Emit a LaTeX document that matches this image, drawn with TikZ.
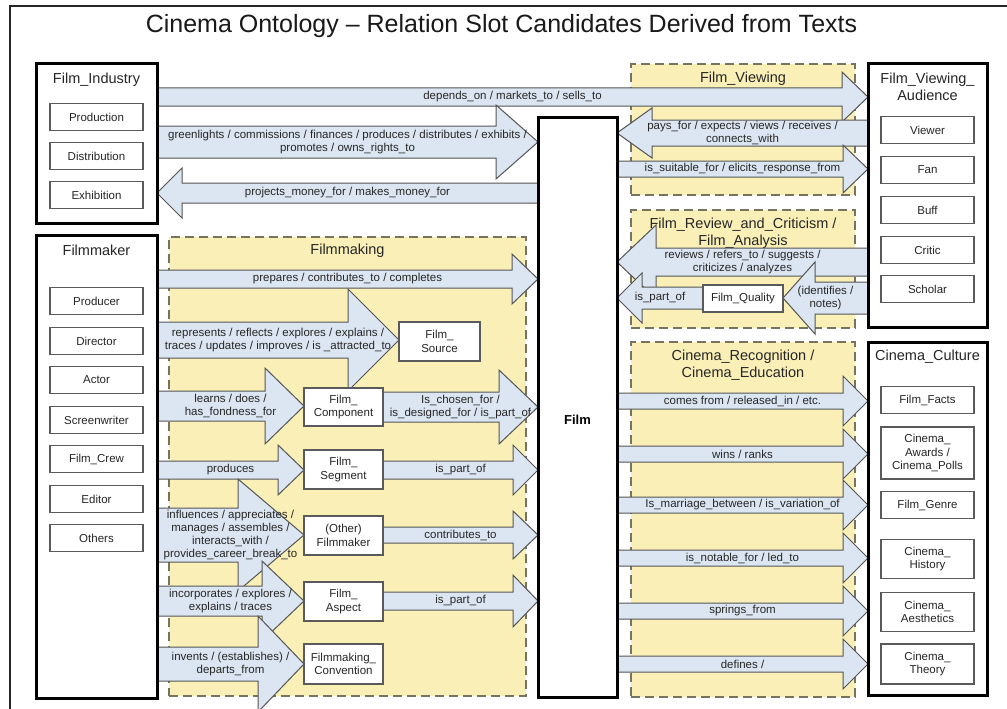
\documentclass[tikz,border=0pt]{standalone}
\usepackage{fontspec}
\setmainfont{Liberation Sans}
\usetikzlibrary{calc}

\definecolor{arrowfill}{RGB}{220,230,242}
\definecolor{arrowline}{RGB}{85,85,85}
\definecolor{zoneyellow}{RGB}{249,239,183}
\definecolor{dashgray}{RGB}{118,116,96}
\definecolor{boxgray}{RGB}{90,90,90}
\definecolor{textgray}{RGB}{38,38,38}

\pgfdeclarelayer{paper}
\pgfdeclarelayer{zones}
\pgfdeclarelayer{arrowlayer}
\pgfsetlayers{paper,zones,arrowlayer,main}

\tikzset{
  bigbox/.style={draw=black, line width=3pt, fill=white, outer sep=0pt},
  subbox/.style={draw=boxgray, line width=1.3pt, fill=white, minimum width=93pt,
    minimum height=27pt, font=\fontsize{11.5}{13.5}\selectfont, text=textgray,
    align=center, outer sep=0pt, inner sep=1pt},
  zone/.style={draw=dashgray, line width=1.8pt, dash pattern=on 9pt off 5pt,
    fill=zoneyellow, outer sep=0pt},
  hdr/.style={font=\fontsize{14.5}{17.5}\selectfont, text=textgray, align=center, inner sep=0pt},
  blockarrow/.style={draw=arrowline, line width=1pt, fill=arrowfill, line join=miter},
  arrlabel/.style={font=\fontsize{11.5}{13.2}\selectfont, text=textgray, align=center, inner sep=0pt},
}

% Block arrow between two node anchors:
% #1 source anchor, #2 target anchor (tip), #3 centre line y, #4 half shaft,
% #5 half head, #6 head length, #7 label, #8 label name
\newcommand\blockarrow[8]{%
  \path[blockarrow] let \p1=(#1), \p2=(#2), \n1={sign(\x2-\x1)} in
    (\x1,{-#3pt+#4pt}) -- ({\x2-(\n1)*#6pt},{-#3pt+#4pt})
    -- ({\x2-(\n1)*#6pt},{-#3pt+#5pt}) -- (\x2,{-#3pt})
    -- ({\x2-(\n1)*#6pt},{-#3pt-#5pt}) -- ({\x2-(\n1)*#6pt},{-#3pt-#4pt})
    -- (\x1,{-#3pt-#4pt}) -- cycle
    ({(\x1+\x2)/2},{-#3pt}) node[arrlabel] (#8) {#7};}

\begin{document}
\begin{tikzpicture}[x=1pt,y=-1pt]
\useasboundingbox (0,0) rectangle (1007,709);
\begin{pgfonlayer}{paper}
\fill[white] (0,0) rectangle (1007,709);
\end{pgfonlayer}

% page frame and title
\draw[black!85, line width=2pt] (10,720) -- (10,6) -- (1020,6);
\node[font=\fontsize{25}{28}\selectfont, text=black!90, anchor=base] (title) at (501.5,33)
  {Cinema Ontology – Relation Slot Candidates Derived from Texts};

% shaded zones
\begin{pgfonlayer}{zones}
\node[zone, minimum width=357pt, minimum height=459pt] (Filmmaking) at (347.5,466.5) {};
\node[zone, minimum width=224pt, minimum height=131pt] (Viewing) at (743,129.5) {};
\node[zone, minimum width=224pt, minimum height=118pt] (Review) at (743,269) {};
\node[zone, minimum width=224pt, minimum height=355pt] (Recognition) at (743,519.5) {};
\node[hdr] (FilmmakingT) at (347.5,251) {Filmmaking};
\node[hdr] (ViewingT) at (743,79) {Film\_Viewing};
\node[hdr] (ReviewT) at (743,233) {Film\_Review\_and\_Criticism /\\Film\_Analysis};
\node[hdr] (RecognitionT) at (743,365) {Cinema\_Recognition /\\Cinema\_Education};
\end{pgfonlayer}

% Film_Industry
\node[bigbox, minimum width=121pt, minimum height=159pt] (FI) at (96.5,143.5) {};
\node[hdr] (FIhead) at (96.5,80) {Film\_Industry};
\node[subbox] (Production) at (96.5,117) {Production};
\node[subbox] (Distribution) at (96.5,156) {Distribution};
\node[subbox] (Exhibition) at (96.5,195) {Exhibition};

% Filmmaker
\node[bigbox, minimum width=121pt, minimum height=463pt] (FM) at (96.5,466.5) {};
\node[hdr] (FMhead) at (96.5,250) {Filmmaker};
\node[subbox] (Producer) at (96.5,301) {Producer};
\node[subbox] (Director) at (96.5,341) {Director};
\node[subbox] (Actor) at (96.5,380) {Actor};
\node[subbox] (Screenwriter) at (96.5,420) {Screenwriter};
\node[subbox] (Crew) at (96.5,459) {Film\_Crew};
\node[subbox] (Editor) at (96.5,499) {Editor};
\node[subbox] (Others) at (96.5,538) {Others};

% Film
\node[bigbox, minimum width=79pt, minimum height=580pt] (Film) at (577.5,407) {};
\node[font=\bfseries\fontsize{13}{15}\selectfont, text=black] (FilmText) at (577.5,420) {Film};

% Film_Viewing_Audience
\node[bigbox, minimum width=119pt, minimum height=263pt] (FVA) at (927.5,195.5) {};
\node[hdr] (FVAhead) at (927.5,87) {Film\_Viewing\_\\Audience};
\node[subbox] (Viewer) at (927.5,130) {Viewer};
\node[subbox] (Fan) at (927.5,170) {Fan};
\node[subbox] (Buff) at (927.5,210) {Buff};
\node[subbox] (Critic) at (927.5,250) {Critic};
\node[subbox] (Scholar) at (927.5,289) {Scholar};

% Cinema_Culture
\node[bigbox, minimum width=119pt, minimum height=353pt] (CC) at (927.5,518.5) {};
\node[hdr] (CChead) at (927.5,357) {Cinema\_Culture};
\node[subbox] (Facts) at (927.5,400) {Film\_Facts};
\node[subbox, minimum height=52pt] (Awards) at (927.5,453) {Cinema\_\\Awards /\\Cinema\_Polls};
\node[subbox] (Genre) at (927.5,505) {Film\_Genre};
\node[subbox, minimum height=39pt] (History) at (927.5,559) {Cinema\_\\History};
\node[subbox, minimum height=39pt] (Aesthetics) at (927.5,612) {Cinema\_\\Aesthetics};
\node[subbox, minimum height=40pt] (Theory) at (927.5,664) {Cinema\_\\Theory};

% inner concepts
\node[subbox, minimum width=81pt, minimum height=39pt] (Source) at (439.5,341.5) {Film\_\\Source};
\node[subbox, minimum width=79pt, minimum height=38pt] (Component) at (343.5,407) {Film\_\\Component};
\node[subbox, minimum width=79pt, minimum height=39pt] (Segment) at (343.5,469.5) {Film\_\\Segment};
\node[subbox, minimum width=79pt, minimum height=39pt] (OtherFM) at (343.5,535.5) {(Other)\\Filmmaker};
\node[subbox, minimum width=79pt, minimum height=39pt] (Aspect) at (343.5,601.5) {Film\_\\Aspect};
\node[subbox, minimum width=79pt, minimum height=40pt] (Convention) at (343.5,664) {Filmmaking\_\\Convention};
\node[subbox, minimum width=80pt, minimum height=27pt] (Quality) at (743,298.5) {Film\_Quality};

% relations
\begin{pgfonlayer}{arrowlayer}
\blockarrow{FI.east}{FVA.west}{97}{9}{25}{26}{depends\_on / markets\_to / sells\_to}{Ldepends}
\blockarrow{FI.east}{Film.west}{142}{16}{37}{42}{greenlights / commissions / finances / produces / distributes / exhibits /\\promotes / owns\_rights\_to}{Lgreen}
\blockarrow{Film.west}{FI.east}{193}{10}{25}{25}{projects\_money\_for / makes\_money\_for}{Lmoney}

\blockarrow{FVA.west}{Film.east}{133}{13}{25}{35}{pays\_for / expects / views / receives /\\connects\_with}{Lpays}
\blockarrow{Film.east}{FVA.west}{169}{8}{24}{25}{is\_suitable\_for / elicits\_response\_from}{Lsuit}
\blockarrow{FVA.west}{Film.east}{262}{14}{37}{39}{reviews / refers\_to / suggests /\\criticizes / analyzes}{Lreview}
\blockarrow{Quality.west}{Film.east}{298}{11}{25}{25}{is\_part\_of}{Lqpart}
\blockarrow{FVA.west}{Quality.east}{298}{16}{36}{32}{(identifies /\\notes)}{Lident}

\blockarrow{Film.east}{CC.west}{401}{8}{25}{25}{comes from / released\_in / etc.}{Lcomes}
\blockarrow{Film.east}{CC.west}{454}{8}{25}{25}{wins / ranks}{Lwins}
\blockarrow{Film.east}{CC.west}{505}{8}{25}{25}{Is\_marriage\_between / is\_variation\_of}{Lmarriage}
\blockarrow{Film.east}{CC.west}{558}{8}{25}{25}{is\_notable\_for / led\_to}{Lnotable}
\blockarrow{Film.east}{CC.west}{611}{8}{25}{25}{springs\_from}{Lsprings}
\blockarrow{Film.east}{CC.west}{664}{8}{25}{25}{defines /}{Ldefines}

\blockarrow{FM.east}{Film.west}{279}{9}{25}{26}{prepares / contributes\_to / completes}{Lprepares}
\blockarrow{FM.east}{Source.west}{340}{18}{51}{51}{represents / reflects / explores / explains /\\traces / updates / improves / is \_attracted\_to}{Lrepresents}
\blockarrow{FM.east}{Component.west}{406}{15}{38}{39}{learns / does /\\has\_fondness\_for}{Llearns}
\blockarrow{Component.east}{Film.west}{407}{15}{37}{39}{Is\_chosen\_for /\\is\_designed\_for / is\_part\_of}{Lchosen}
\blockarrow{FM.east}{Segment.west}{470}{9}{25}{26}{produces}{Lproduces}
\blockarrow{Segment.east}{Film.west}{470}{9}{25}{25}{is\_part\_of}{Lspart}
\blockarrow{FM.east}{OtherFM.west}{535}{27}{56}{66}{influences / appreciates /\\manages / assembles /\\interacts\_with /\\provides\_career\_break\_to}{Linfluences}
\blockarrow{OtherFM.east}{Film.west}{535}{8}{24}{25}{contributes\_to}{Lcontributes}
\blockarrow{FM.east}{Aspect.west}{601}{15}{40}{42}{incorporates / explores /\\explains / traces}{Lincorporates}
\blockarrow{Aspect.east}{Film.west}{601}{9}{26}{25}{is\_part\_of}{Lapart}
\blockarrow{FM.east}{Convention.west}{664}{17}{48}{46}{invents / (establishes) /\\departs\_from}{Linvents}
\end{pgfonlayer}
\end{tikzpicture}
\end{document}
